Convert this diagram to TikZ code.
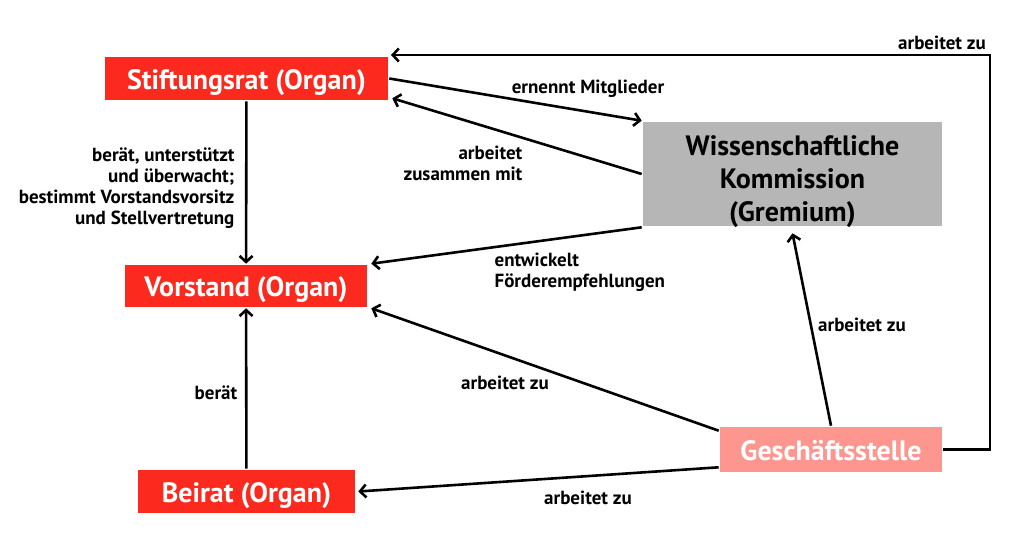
\documentclass[tikz,border=0pt]{standalone}
\usepackage{fontspec}
\setmainfont{PT Sans}
\usetikzlibrary{arrows.meta}
\definecolor{organred}{RGB}{252,42,30}
\definecolor{gspink}{RGB}{253,150,142}
\definecolor{gremgray}{RGB}{182,182,182}
\begin{document}
\begin{tikzpicture}[x=1pt, y=-1pt, line width=2.6pt,
  box/.style = {rectangle, inner sep=0pt, font=\bfseries\fontsize{28}{33}\selectfont, align=center},
  organ/.style = {box, fill=organred, text=white, text height=21pt, text depth=0pt},
  lab/.style = {font=\bfseries\fontsize{19}{21}\selectfont},
  arr/.style = {-{Straight Barb[length=6pt,width=13pt]}}]
\useasboundingbox (0,0) rectangle (1028,541);
\node[organ, minimum width=283pt, minimum height=43pt] (stift) at (246.5,78.5) {Stiftungsrat (Organ)};
\node[organ, minimum width=242pt, minimum height=42pt] (vorstand) at (246,286) {Vorstand (Organ)};
\node[organ, minimum width=217pt, minimum height=43pt] (beirat) at (246.5,491.5) {Beirat (Organ)};
\node[box, fill=gremgray, text=black, minimum width=299pt, minimum height=104pt,
  text height=94pt, text depth=0pt] (komm) at (792.5,174) {Wissenschaftliche\\Kommission\\(Gremium)};
\node[organ, fill=gspink, minimum width=222pt, minimum height=45pt] (gs) at (831,449.5) {Geschäftsstelle};
\coordinate (turn) at (990,55);
\coordinate (stiftin) at (391,55);
% Stiftungsrat und Kommission
\draw[arr] (stift.east) -- (komm.north west);
\draw[arr] (komm.west) -- ([xshift=3pt,yshift=3pt]stift.south east);
\draw[arr] (stift) -- (vorstand);
\draw[arr] (komm.south west) -- ([xshift=3pt]vorstand.north east);
% Geschaeftsstelle
\draw[arr] ([yshift=-5pt]gs.north west) -- ([xshift=3pt]vorstand.south east);
\draw[arr] (gs.north) -- ([yshift=-6pt]komm.south);
\draw[arr] ([yshift=6pt]gs.south west) -- ([xshift=2pt]beirat.east);
\draw[arr] (gs.east) -| (turn) -- (stiftin);
\draw[arr] (beirat) -- (vorstand);
% Beschriftungen
\node[lab] (l1) at (588,89) {ernennt Mitglieder};
\node[lab, align=right, anchor=east] (l2) at (527,163) {arbeitet\\zusammen mit};
\node[lab, align=right, anchor=east] (l3) at (239,188) {berät, unterstützt\\und überwacht;\\bestimmt Vorstandsvorsitz\\und Stellvertretung};
\node[lab, align=left, anchor=west] (l4) at (490,272) {entwickelt\\Förderempfehlungen};
\node[lab] (l5) at (505,383) {arbeitet zu};
\node[lab] (l6) at (862,325) {arbeitet zu};
\node[lab] (l7) at (588,498) {arbeitet zu};
\node[lab] (l8) at (216,393) {berät};
\node[lab] (l9) at (942,43) {arbeitet zu};
\end{tikzpicture}
\end{document}
